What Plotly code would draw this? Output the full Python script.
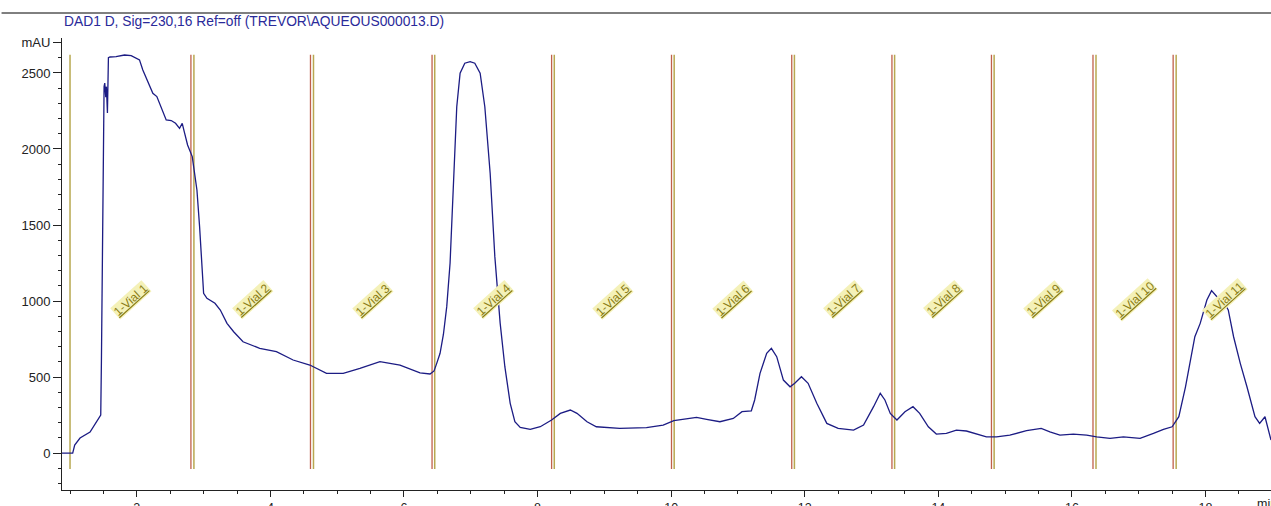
import plotly.graph_objects as go

# ---- data ----
time_min = [0.88, 1.04, 1.07, 1.15, 1.30, 1.42, 1.46, 1.47, 1.485, 1.50, 1.51, 1.52, 1.535, 1.545,
            1.56, 1.575, 1.60, 1.69, 1.816, 1.916, 1.991, 2.04, 2.09, 2.165, 2.24, 2.30, 2.365,
            2.44, 2.515, 2.58, 2.64, 2.68, 2.71, 2.76, 2.83, 2.85, 2.90, 2.94, 2.97, 3.00, 3.05,
            3.17, 3.25, 3.35, 3.45, 3.59, 3.84, 4.09, 4.34, 4.59, 4.84, 5.09, 5.34, 5.64, 5.94,
            6.24, 6.39, 6.45, 6.49, 6.54, 6.59, 6.64, 6.69, 6.74, 6.79, 6.84, 6.91, 6.99, 7.06,
            7.14, 7.21, 7.29, 7.36, 7.44, 7.51, 7.59, 7.66, 7.74, 7.89, 8.04, 8.21, 8.34, 8.49,
            8.59, 8.74, 8.88, 9.23, 9.63, 9.88, 10.04, 10.23, 10.38, 10.53, 10.73, 10.93, 11.06,
            11.20, 11.25, 11.33, 11.43, 11.50, 11.58, 11.68, 11.78, 11.85, 11.95, 12.05, 12.18,
            12.33, 12.50, 12.73, 12.88, 13.03, 13.13, 13.20, 13.28, 13.38, 13.50, 13.62, 13.72,
            13.85, 13.97, 14.12, 14.27, 14.42, 14.57, 14.72, 14.87, 15.07, 15.32, 15.54, 15.67,
            15.82, 16.02, 16.22, 16.37, 16.57, 16.77, 17.02, 17.22, 17.37, 17.50, 17.60, 17.70,
            17.77, 17.84, 17.92, 18.02, 18.09, 18.17, 18.27, 18.34, 18.42, 18.52, 18.62, 18.74,
            18.81, 18.89, 18.98]
absorbance_mau = [0, 0, 53, 99, 138, 217, 250, 600, 1500, 2100, 2410, 2433, 2340, 2410,
                  2237, 2600, 2605, 2607, 2618, 2614, 2596, 2586, 2520, 2443, 2366, 2345, 2278,
                  2191, 2187, 2169, 2136, 2169, 2114, 2026, 1950, 1884, 1730, 1489, 1226, 1051, 1018,
                  985, 941, 853, 798, 732, 689, 667, 612, 579, 524, 524, 557, 601, 579,
                  528, 520, 540, 590, 656, 780, 963, 1250, 1730, 2278, 2498, 2564, 2575, 2564,
                  2498, 2278, 1840, 1292, 853, 568, 327, 206, 169, 156, 173, 217, 261, 283,
                  261, 206, 173, 162, 167, 184, 213, 228, 235, 222, 206, 228, 272,
                  278, 349, 524, 656, 689, 634, 480, 436, 459, 502, 459, 327,
                  195, 162, 151, 184, 305, 393, 349, 261, 217, 272, 305, 261,
                  173, 125, 129, 151, 145, 125, 107, 107, 118, 147, 162, 140,
                  118, 125, 118, 107, 96, 107, 96, 129, 156, 173, 239, 436,
                  612, 765, 853, 1007, 1068, 1028, 995, 941, 765, 590, 436, 239,
                  195, 239, 86]

fraction_start = [1.00, 2.855, 4.645, 6.46, 8.25, 10.045, 11.845, 13.345, 14.835, 16.36, 17.56]
fraction_end = [2.81, 4.60, 6.42, 8.21, 10.005, 11.805, 13.305, 14.795, 16.315, 17.515, 19.0]
vial_labels = ["1-Vial 1", "1-Vial 2", "1-Vial 3", "1-Vial 4", "1-Vial 5", "1-Vial 6",
               "1-Vial 7", "1-Vial 8", "1-Vial 9", "1-Vial 10", "1-Vial 11"]
x_tick_vals = [2, 4, 6, 8, 10, 12, 14, 16, 18]
y_tick_vals = [0, 500, 1000, 1500, 2000, 2500, 2700]
y_tick_text = ["0", "500", "1000", "1500", "2000", "2500", "mAU"]
title_text = "DAD1 D, Sig=230,16 Ref=off (TREVOR\\AQUEOUS000013.D)"

FONT = "Arial, Liberation Sans, sans-serif"
RED = "#c0604a"
OLIVE = "#b8a850"

fig = go.Figure()

# fraction boundary lines
line_bottom, line_top = -105, 2620
for s, e in zip(fraction_start, fraction_end):
    fig.add_shape(type="line", xref="x", yref="y", x0=s, x1=s, y0=line_bottom, y1=line_top,
                  line=dict(color=OLIVE, width=1.5), layer="below")
    if e < 18.99:
        fig.add_shape(type="line", xref="x", yref="y", x0=e, x1=e, y0=line_bottom, y1=line_top,
                      line=dict(color=RED, width=1.3), layer="below")

fig.add_trace(go.Scatter(x=time_min, y=absorbance_mau, mode="lines",
                         line=dict(color="#1c1c84", width=1.3), hoverinfo="x+y",
                         showlegend=False))

# vial labels
for s, e, lab in zip(fraction_start, fraction_end, vial_labels):
    fig.add_annotation(x=(s + e) / 2, y=1010, xref="x", yref="y", text="<u>" + lab + "</u>",
                       showarrow=False, textangle=-42,
                       font=dict(family=FONT, size=12, color="#8a7c14"),
                       bgcolor="#f4f1b8", borderpad=0)

# header title and rule
fig.add_shape(type="line", xref="paper", yref="paper", x0=-0.05, x1=1.0,
              y0=1.0553, y1=1.0553, line=dict(color="black", width=1))
fig.add_annotation(xref="paper", yref="paper", x=0.0, y=1.037, xanchor="left", yanchor="middle",
                   text=title_text, showarrow=False,
                   font=dict(family=FONT, size=13.8, color="#2a2a9a"))
fig.add_annotation(xref="paper", yref="paper", x=1.0, y=-0.012, xanchor="left", yanchor="top",
                   xshift=-16, text="min", showarrow=False,
                   font=dict(family=FONT, size=12.5, color="#222"))

fig.update_xaxes(range=[0.88, 18.98], tickmode="array", tickvals=x_tick_vals,
                 ticks="outside", ticklen=6, tickcolor="#222", showline=True, linecolor="#222",
                 linewidth=1, showgrid=False, zeroline=False, automargin=False,
                 tickfont=dict(family=FONT, size=12.5, color="#222"),
                 minor=dict(tick0=0, dtick=0.5, ticks="outside", ticklen=3, tickcolor="#222",
                            showgrid=False))
fig.update_yaxes(range=[-243, 2730], tickmode="array", tickvals=y_tick_vals, ticktext=y_tick_text,
                 ticks="outside", ticklen=8, tickcolor="#222", showline=True, linecolor="#222",
                 linewidth=1, showgrid=False, zeroline=False, automargin=False,
                 tickfont=dict(family=FONT, size=13, color="#222"),
                 minor=dict(tick0=0, dtick=100, ticks="outside", ticklen=3, tickcolor="#222",
                            showgrid=False))

fig.update_layout(width=1271, height=506, margin=dict(l=62, r=0, t=38, b=16),
                  plot_bgcolor="white", paper_bgcolor="white", showlegend=False)

fig.write_html("out.html", config={"displayModeBar": False},
               post_script="document.body.style.margin='0';document.body.style.overflow='hidden';")
